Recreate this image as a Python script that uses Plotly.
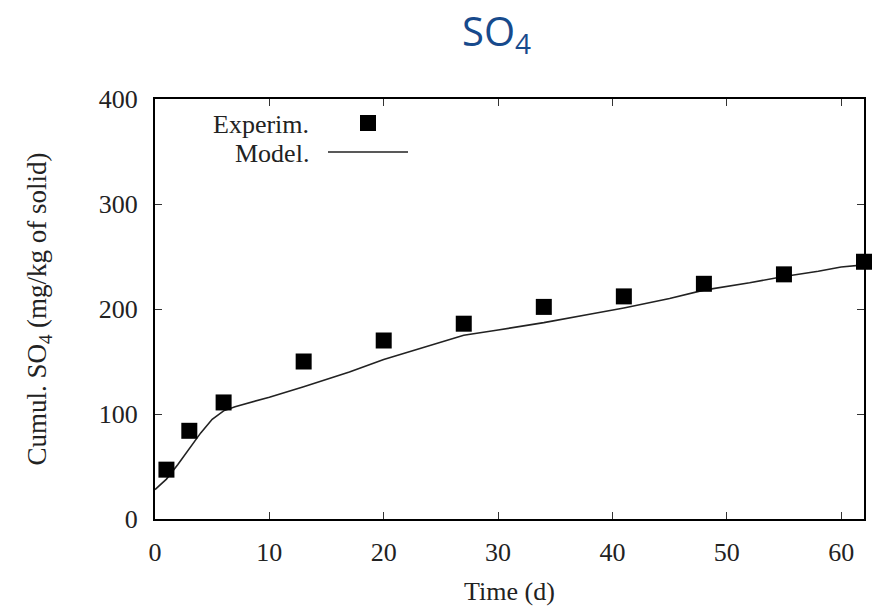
import plotly.graph_objects as go

# Measured cumulative sulphate release
exp_days = [1, 3, 6, 13, 20, 27, 34, 41, 48, 55, 62]
exp_so4 = [47, 84, 111, 150, 170, 186, 202, 212, 224, 233, 245]

# Model curve
model_days = [0, 1, 2, 3, 4, 5, 6, 7, 10, 13, 17, 20, 24, 27, 30, 34, 38, 41, 45, 48, 52, 55, 58, 60, 62]
model_so4 = [28, 38, 52, 67, 82, 95, 103, 107, 116, 126, 140, 152, 165, 175, 180, 187, 195, 201, 210, 218, 225, 231, 236, 240, 242]

x_ticks = [0, 10, 20, 30, 40, 50, 60]
y_ticks = [0, 100, 200, 300, 400]

serif = "Liberation Serif"
W, H = 874, 607
L, R, T, B = 155, 10, 99, 88

fig = go.Figure()
fig.add_trace(go.Scatter(
    x=model_days, y=model_so4, mode="lines",
    line=dict(color="#222222", width=1.6), showlegend=False,
))
fig.add_trace(go.Scatter(
    x=exp_days, y=exp_so4, mode="markers",
    marker=dict(symbol="square", size=16, color="black"),
    cliponaxis=False, showlegend=False,
))

axis_common = dict(
    showline=True, linecolor="black", linewidth=2, mirror="ticks",
    ticks="inside", ticklen=7, tickwidth=1.2, tickcolor="#333333",
    showgrid=False, zeroline=False, automargin=False,
    tickfont=dict(family=serif, size=26, color="#222222"),
)
fig.update_xaxes(range=[0, 62], tickvals=x_ticks, ticklabelstandoff=9,
                 title=dict(text="Time (d)", font=dict(family=serif, size=26, color="#222222"), standoff=16),
                 **axis_common)
fig.update_yaxes(range=[0, 400], tickvals=y_ticks, ticklabelstandoff=10,
                 title=dict(text="Cumul. SO<sub>4</sub> (mg/kg of solid)",
                            font=dict(family=serif, size=27, color="#222222"), standoff=44),
                 **axis_common)

def px(xp):
    return (xp - L) / (W - L - R)

def py(yp):
    return (H - B - yp) / (H - T - B)

# Key: labels right-aligned with their symbols to the right
fig.add_annotation(text="Experim.", xref="paper", yref="paper", x=px(311), y=py(124),
                   xanchor="right", yanchor="middle", showarrow=False,
                   font=dict(family=serif, size=26, color="#222222"))
fig.add_annotation(text="Model.", xref="paper", yref="paper", x=px(311), y=py(153),
                   xanchor="right", yanchor="middle", showarrow=False,
                   font=dict(family=serif, size=26, color="#222222"))
fig.add_shape(type="rect", xref="paper", yref="paper",
              x0=px(360), x1=px(376), y0=py(131), y1=py(115),
              fillcolor="black", line=dict(width=0))
fig.add_shape(type="line", xref="paper", yref="paper",
              x0=px(328), x1=px(408), y0=py(152), y1=py(152),
              line=dict(color="#222222", width=1.6))

# Header
fig.add_annotation(text="SO<sub>4</sub>", xref="paper", yref="paper", x=px(496), y=py(33),
                   xanchor="center", yanchor="middle", showarrow=False,
                   font=dict(family="Open Sans", size=40, color="#174a8c"))

fig.update_layout(
    width=W, height=H, margin=dict(l=L, r=R, t=T, b=B),
    plot_bgcolor="white", paper_bgcolor="white",
)
fig.write_html("out.html")
